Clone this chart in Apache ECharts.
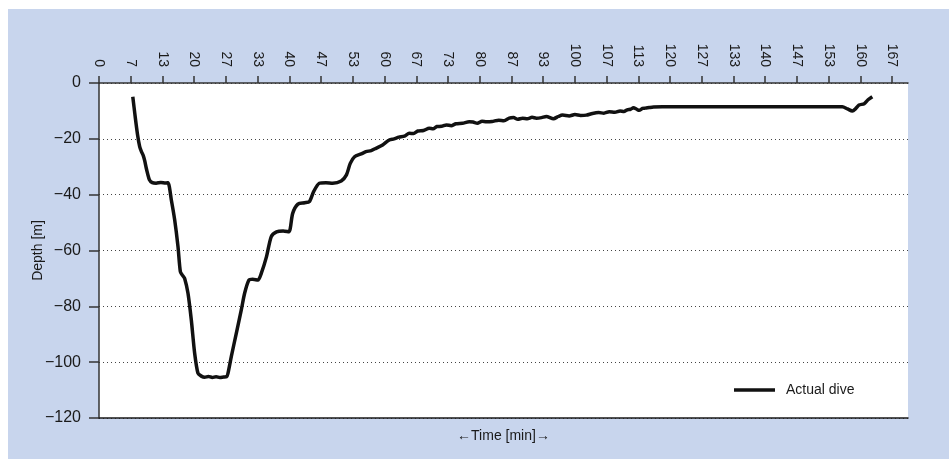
<!DOCTYPE html>
<html>
<head>
<meta charset="utf-8">
<script src="https://cdn.jsdelivr.net/npm/echarts@6/dist/echarts.min.js"></script>
<style>
  html, body { margin: 0; padding: 0; background: #fff; }
  #frame { position: absolute; left: 8px; top: 9px; width: 941px; height: 450px; background: #c8d5ed; }
  #Dive { position: absolute; left: 0; top: 0; width: 949px; height: 459px; }
</style>
</head>
<body>
<div id="frame"></div>
<div id="Dive"></div>
<script>
// time [min]
var timeMin = [7.1, 7.6, 8.1, 8.55, 8.9, 9.3, 9.6, 10.0, 10.6, 11.2, 12.0, 13.0, 14.0, 14.5,
  15.2, 15.9, 16.6, 17.1, 17.6, 18.0, 18.7, 19.4, 20.1, 20.8, 21.5, 22.2, 23.0, 23.8, 24.6, 25.4, 26.2, 26.8,
  27.1, 27.8, 28.85, 29.9, 30.6, 31.5, 32.3, 33.4, 34.1, 35.2, 36.2, 37.3, 38.7, 39.9,
  40.7, 41.8, 43.2, 44.2, 45.1, 46.3, 47.7, 49.1, 50.9, 52.0, 52.8, 53.7, 55.1, 56.1, 57.2, 58.2, 59.6,
  61.0, 62.0, 63.0, 64.2, 65.2, 66.1, 67.0, 68.2, 69.4, 70.2, 71.0, 72.0, 73.0, 74.0, 75.0, 76.4, 77.8,
  78.6, 79.5, 80.5, 81.4, 82.6, 84.0, 85.1, 86.2, 87.1, 88.0, 89.0, 90.0, 91.0, 91.9, 93.0, 94.0, 95.5,
  96.5, 97.4, 98.8, 100.0, 101.2, 102.4, 103.7, 105.0, 106.1, 107.2, 108.4, 109.5, 110.3, 111.0, 111.7,
  112.3, 113.0, 113.5, 114.2, 114.8, 115.6, 116.5, 118.4, 125.0, 135.0, 145.0, 152.0, 156.2,
  157.3, 158.3, 159.0, 159.7, 160.8, 161.6, 162.5];
// depth [m]
var depthM = [-4.9, -12.0, -18.5, -22.8, -24.5, -26.0, -27.8, -31.0, -34.7, -35.7, -35.9, -35.6, -35.8, -35.7,
  -41.9, -49.0, -58.6, -67.6, -69.0, -70.0, -75.3, -84.9, -96.8, -104.0, -105.0, -105.4, -105.1, -105.5, -105.2, -105.5, -105.3, -105.2,
  -104.0, -98.0, -89.7, -81.3, -75.3, -70.6, -70.3, -70.6, -68.2, -62.2, -55.0, -53.3, -53.0, -53.3,
  -46.7, -43.4, -42.9, -42.5, -38.9, -35.9, -35.7, -35.9, -35.1, -32.9, -28.8, -26.4, -25.4, -24.6, -24.2, -23.4, -22.2,
  -20.4, -20.0, -19.4, -19.0, -18.0, -18.1, -17.2, -17.0, -16.2, -16.4, -15.6, -15.5, -15.0, -15.3, -14.6, -14.4, -13.9,
  -14.0, -14.4, -13.7, -13.9, -13.8, -13.3, -13.5, -12.6, -12.4, -13.0, -12.6, -12.8, -12.3, -12.6, -12.4, -12.0, -12.8,
  -12.0, -11.5, -11.8, -11.3, -11.6, -11.5, -10.9, -10.6, -10.8, -10.3, -10.5, -10.0, -10.2, -9.6, -9.4,
  -8.9, -9.4, -9.8, -9.1, -9.0, -8.8, -8.6, -8.5, -8.5, -8.5, -8.5, -8.5, -8.5,
  -9.3, -10.0, -9.2, -7.9, -7.4, -6.0, -4.9];

var xMin = 0, xMax = 170, xStep = 20 / 3;
var yMin = -120, yMax = 0, yStep = 20;

var dive = [];
for (var i = 0; i < timeMin.length; i++) dive.push([timeMin[i], depthM[i]]);

var Echarts = echarts.init(document.getElementById("Dive"), null, { renderer: "canvas" })
Echarts.setOption({
  animation: false,
  backgroundColor: "transparent",
  textStyle: { fontFamily: "Liberation Sans" },
  grid: {
    left: 99, top: 83, right: 41, bottom: 41,
    show: true, backgroundColor: "#ffffff", borderWidth: 0
  },
  legend: {
    data: ["Actual dive"],
    left: 729, top: 378,
    icon: "rect",
    itemWidth: 41, itemHeight: 3.5, itemGap: 10,
    textStyle: { fontSize: 14, color: "#1a1a1a", padding: [0, 0, 0, 6] }
  },
  xAxis: [
    {
      type: "value", position: "top",
      min: xMin, max: xMax, interval: xStep,
      axisLine: { show: true, onZero: false, lineStyle: { color: "#333", width: 1.5 } },
      axisTick: { show: true, length: 7, lineStyle: { color: "#333", width: 1.5 } },
      axisLabel: {
        rotate: 90, margin: 16, fontSize: 14, color: "#1a1a1a",
        showMaxLabel: false,
        formatter: function (v) { return String(Math.round(v)); }
      },
      splitLine: { show: false }
    },
    {
      type: "value", position: "bottom",
      min: xMin, max: xMax,
      name: "\u2190Time [min]\u2192", nameLocation: "middle", nameGap: 11,
      nameTextStyle: { fontSize: 14, color: "#1a1a1a" },
      axisLine: { show: true, onZero: false, lineStyle: { color: "#1a1a1a", width: 1.5 } },
      axisTick: { show: false },
      axisLabel: { show: false },
      splitLine: { show: false }
    }
  ],
  yAxis: {
    type: "value",
    min: yMin, max: yMax, interval: yStep,
    name: "Depth [m]", nameLocation: "middle", nameGap: 54, nameRotate: 90,
    nameMoveOverlap: false,
    nameTextStyle: { fontSize: 14, color: "#1a1a1a" },
    axisLine: { show: true, lineStyle: { color: "#333", width: 1.5 } },
    axisTick: { show: true, length: 10, lineStyle: { color: "#333", width: 1.5 } },
    axisLabel: {
      margin: 18, fontSize: 16, color: "#1a1a1a",
      formatter: function (v) { return String(v).replace("-", "\u2212"); }
    },
    splitLine: { show: true, lineStyle: { color: "#444", width: 1, type: [1, 3] } }
  },
  series: [
    {
      name: "Actual dive",
      type: "line",
      xAxisIndex: 0,
      data: dive,
      showSymbol: false,
      smooth: 0.25,
      lineStyle: { color: "#111", width: 3.5 },
      itemStyle: { color: "#111" }
    }
  ]
})
</script>
</body>
</html>
